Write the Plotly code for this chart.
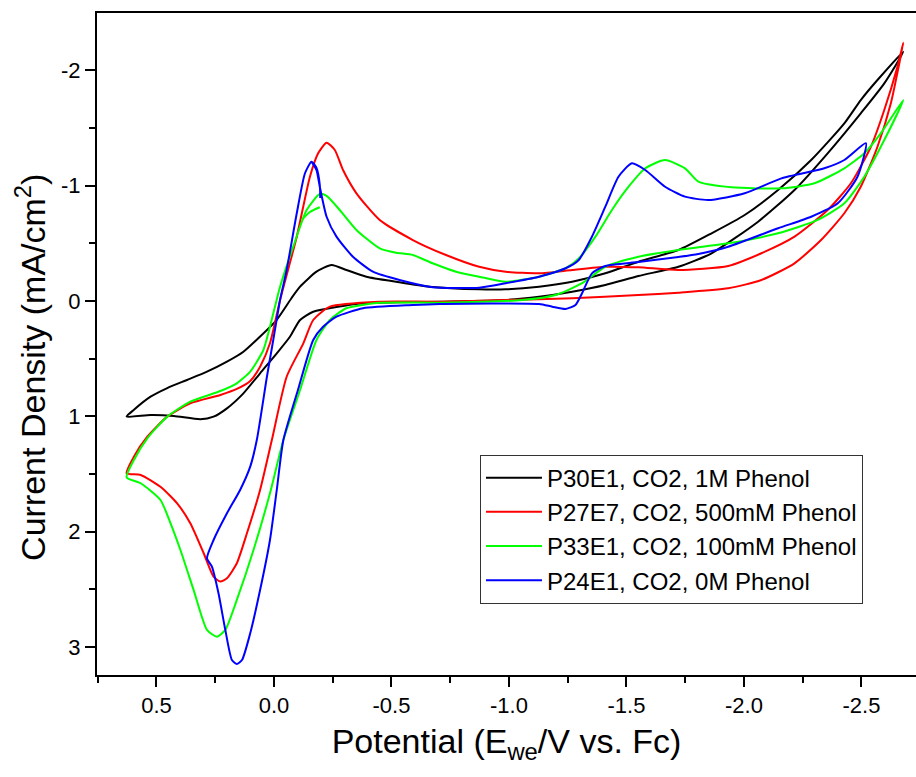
import plotly.graph_objects as go

# ---- data (potential V vs Fc, current density mA/cm^2) ----
black_v = [0.627, 0.597, 0.525, 0.454, 0.370, 0.285, 0.200, 0.130, 0.060, -0.011,
           -0.075, -0.111, -0.181, -0.245, -0.308, -0.393, -0.520, -0.661, -0.873, -0.986,
           -1.128, -1.269, -1.410, -1.551, -1.721, -1.862, -2.003, -2.145, -2.286, -2.427,
           -2.497, -2.568, -2.678,
           -2.597, -2.497, -2.356, -2.215, -2.060, -1.862, -1.721, -1.551, -1.410, -1.269,
           -1.128, -0.986, -0.704, -0.379, -0.167, -0.111, -0.068, -0.012, 0.059, 0.130,
           0.200, 0.257, 0.313, 0.426, 0.525, 0.627]
black_j = [1.003, 0.945, 0.830, 0.755, 0.685, 0.613, 0.526, 0.440, 0.310, 0.165,
           -0.026, -0.124, -0.254, -0.312, -0.269, -0.211, -0.167, -0.124, -0.101, -0.101,
           -0.124, -0.167, -0.240, -0.341, -0.442, -0.587, -0.746, -0.963, -1.223, -1.541,
           -1.743, -1.917, -2.162,
           -1.888, -1.628, -1.281, -0.963, -0.688, -0.414, -0.297, -0.217, -0.139, -0.081,
           -0.037, -0.009, 0.006, 0.020, 0.093, 0.165, 0.310, 0.454, 0.627, 0.801,
           0.931, 1.003, 1.026, 0.997, 0.989, 1.003]

red_v = [0.627, 0.596, 0.539, 0.454, 0.356, 0.228, 0.158, 0.101, 0.059, 0.017,
         -0.026, -0.097, -0.153, -0.188, -0.224, -0.259, -0.294, -0.351, -0.450, -0.591,
         -0.732, -0.873, -0.986, -1.128, -1.269, -1.410, -1.551, -1.721, -1.933, -2.074,
         -2.215, -2.356, -2.455, -2.540, -2.597, -2.653, -2.678,
         -2.625, -2.568, -2.497, -2.427, -2.328, -2.215, -2.074, -1.933, -1.721, -1.551,
         -1.269, -0.986, -0.704, -0.450, -0.238, -0.167, -0.125, -0.054, 0.009, 0.059,
         0.115, 0.158, 0.200, 0.228, 0.257, 0.299, 0.356, 0.412, 0.483, 0.567, 0.627]
red_j = [1.494, 1.350, 1.177, 1.003, 0.887, 0.815, 0.763, 0.694, 0.570, 0.367,
         -0.009, -0.558, -1.078, -1.281, -1.373, -1.310, -1.136, -0.934, -0.703, -0.529,
         -0.399, -0.297, -0.254, -0.240, -0.269, -0.297, -0.292, -0.269, -0.304, -0.414,
         -0.558, -0.789, -1.021, -1.338, -1.657, -2.032, -2.240,
         -1.715, -1.338, -0.991, -0.761, -0.529, -0.327, -0.182, -0.110, -0.072, -0.052,
         -0.023, -0.009, 0.006, 0.006, 0.049, 0.165, 0.367, 0.657, 1.206, 1.639,
         2.015, 2.275, 2.405, 2.434, 2.391, 2.188, 1.928, 1.755, 1.611, 1.509, 1.494]

# green: short start fragment, gap (None), then the full loop
green_v = [-0.118, -0.153, -0.195, None,
           -0.224, -0.280, -0.351, -0.450, -0.520, -0.591, -0.675, -0.775, -0.873, -0.986, -1.128,
           -1.241, -1.297, -1.368, -1.438, -1.509, -1.580, -1.664, -1.749, -1.806, -1.947,
           -2.159, -2.300, -2.427, -2.512, -2.582, -2.678,
           -2.597, -2.512, -2.427, -2.314, -2.145, -1.933, -1.721, -1.551, -1.410, -1.311,
           -1.198, -1.057, -0.704, -0.450, -0.308, -0.238, -0.181, -0.111, -0.040, 0.017,
           0.087, 0.158, 0.207, 0.242, 0.285, 0.342, 0.398, 0.440, 0.483, 0.567, 0.627,
           0.596, 0.539, 0.454, 0.356, 0.228, 0.158, 0.101, 0.045, 0.017, -0.026,
           -0.082, -0.139, -0.195, -0.224]
green_j = [-0.703, -0.772, -0.813, None,
           -0.911, -0.789, -0.616, -0.457, -0.419, -0.399, -0.327, -0.254, -0.211, -0.167, -0.211,
           -0.284, -0.370, -0.558, -0.789, -0.991, -1.151, -1.223, -1.151, -1.035, -0.986,
           -0.977, -1.021, -1.151, -1.281, -1.454, -1.743,
           -1.396, -1.078, -0.847, -0.703, -0.587, -0.500, -0.442, -0.384, -0.297, -0.154,
           -0.052, -0.009, 0.015, 0.015, 0.063, 0.165, 0.338, 0.772, 1.206, 1.668,
           2.160, 2.593, 2.853, 2.912, 2.853, 2.506, 2.160, 1.928, 1.726, 1.581, 1.530,
           1.379, 1.191, 1.003, 0.873, 0.781, 0.714, 0.613, 0.425, 0.223, -0.124,
           -0.471, -0.789, -0.928, -0.911]

blue_v = [-0.160, -0.181, -0.195, -0.224, -0.266, -0.336, -0.421, -0.534, -0.675, -0.873,
          -0.986, -1.128, -1.241, -1.297, -1.353, -1.410, -1.466, -1.523, -1.580, -1.664,
          -1.749, -1.848, -2.003, -2.159, -2.342, -2.427, -2.519,
          -2.483, -2.399, -2.286, -2.145, -1.933, -1.806, -1.721, -1.551, -1.410, -1.353,
          -1.311, -1.283, -1.241, -1.184, -1.128, -0.704, -0.591, -0.379, -0.266, -0.209,
          -0.167, -0.102, -0.040, -0.012, 0.017, 0.059, 0.101, 0.136, 0.158, 0.179,
          0.207, 0.236, 0.264, 0.285,
          0.257, 0.200, 0.144, 0.101, 0.073, 0.030, 0.003, -0.026, -0.054, -0.097,
          -0.132, -0.160, -0.181, -0.195, -0.197]
blue_j = [-1.208, -1.136, -0.991, -0.731, -0.558, -0.384, -0.254, -0.182, -0.120, -0.115,
          -0.154, -0.211, -0.284, -0.356, -0.558, -0.818, -1.078, -1.194, -1.136, -0.991,
          -0.905, -0.876, -0.934, -1.064, -1.151, -1.223, -1.368,
          -1.078, -0.847, -0.731, -0.631, -0.471, -0.408, -0.382, -0.338, -0.304, -0.240,
          -0.067, 0.035, 0.069, 0.049, 0.026, 0.026, 0.035, 0.063, 0.136, 0.223,
          0.338, 0.772, 1.206, 1.639, 2.073, 2.507, 2.882, 3.114, 3.148, 3.114,
          2.853, 2.535, 2.304, 2.232,
          2.073, 1.841, 1.639, 1.437, 1.206, 0.657, 0.338, -0.009, -0.269, -0.761,
          -1.108, -1.208, -1.154, -1.006, -0.893]

series_names = ["P30E1, CO2, 1M Phenol", "P27E7, CO2, 500mM Phenol",
                "P33E1, CO2, 100mM Phenol", "P24E1, CO2, 0M Phenol"]
series_colors = ["#000000", "#ff0000", "#00ff00", "#0000ff"]

x_tickvals = [0.5, 0.0, -0.5, -1.0, -1.5, -2.0, -2.5]
x_ticktext = ["0.5", "0.0", "-0.5", "-1.0", "-1.5", "-2.0", "-2.5"]
y_tickvals = [-2, -1, 0, 1, 2, 3]
y_ticktext = ["-2", "-1", "0", "1", "2", "3"]

FONT = "Arial, 'Liberation Sans', sans-serif"

fig = go.Figure()
for xs, ys, name, col in zip([black_v, red_v, green_v, blue_v],
                             [black_j, red_j, green_j, blue_j],
                             series_names, series_colors):
    fig.add_trace(go.Scatter(x=xs, y=ys, mode="lines", name=name, connectgaps=False,
                             line=dict(color=col, width=2, shape="spline", smoothing=0.6)))

fig.update_layout(
    width=916, height=777,
    margin=dict(l=97, r=0, t=13, b=102),
    plot_bgcolor="white", paper_bgcolor="white",
    font=dict(family=FONT, color="black", size=22),
    showlegend=True,
    legend=dict(x=0.4676, y=0.333, xanchor="left", yanchor="top",
                bgcolor="white", bordercolor="#333333", borderwidth=1,
                font=dict(family=FONT, size=24, color="black"),
                itemwidth=56, tracegroupgap=0),
)
fig.update_xaxes(
    range=[0.753, -2.732], showgrid=False, zeroline=False,
    showline=True, linecolor="black", linewidth=2, mirror=True,
    ticks="outside", ticklen=10, tickwidth=2, tickcolor="black",
    tickvals=x_tickvals, ticktext=x_ticktext,
    tickfont=dict(family=FONT, size=22),
    minor=dict(ticks="outside", ticklen=6, tickwidth=2, tickcolor="black",
               tick0=0, dtick=0.25, showgrid=False),
    title=dict(text="Potential (E<sub>we</sub>/V vs. Fc)",
               font=dict(family=FONT, size=34), standoff=12),
)
fig.update_yaxes(
    range=[3.244, -2.498], showgrid=False, zeroline=False,
    showline=True, linecolor="black", linewidth=2, mirror=False,
    ticks="outside", ticklen=10, tickwidth=2, tickcolor="black",
    tickvals=y_tickvals, ticktext=y_ticktext,
    tickfont=dict(family=FONT, size=22),
    minor=dict(ticks="outside", ticklen=6, tickwidth=2, tickcolor="black",
               tick0=0, dtick=0.5, showgrid=False),
)
fig.add_annotation(
    text="Current Density (mA/cm<sup>2</sup>)", textangle=-90,
    xref="paper", yref="paper", x=-0.0806, y=0.4654,
    xanchor="center", yanchor="middle", showarrow=False,
    font=dict(family=FONT, size=34, color="black"),
)

fig.write_html("out.html")
